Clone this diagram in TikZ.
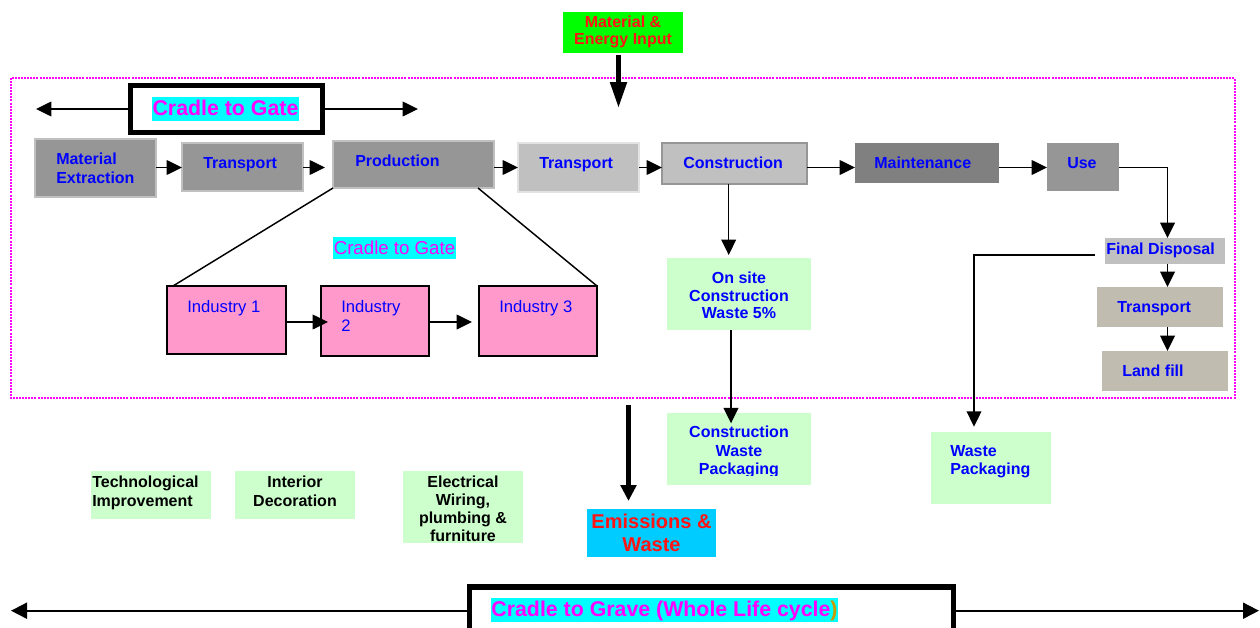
\documentclass[tikz,border=0pt]{standalone}
\usepackage{fontspec}
\setmainfont{Liberation Sans}
\usetikzlibrary{arrows.meta,calc}
\definecolor{gA}{RGB}{150,150,150}
\definecolor{gB}{RGB}{192,192,192}
\definecolor{gC}{RGB}{128,128,128}
\definecolor{beig}{RGB}{192,189,176}
\definecolor{pinkf}{RGB}{255,153,204}
\definecolor{lgreen}{RGB}{204,255,204}
\definecolor{emcyan}{RGB}{0,204,255}
\definecolor{hcyan}{RGB}{0,255,255}
\definecolor{mag}{RGB}{255,0,255}
\definecolor{ngreen}{RGB}{0,255,0}
\definecolor{tblue}{RGB}{0,0,255}
\definecolor{tred}{RGB}{255,20,20}
\definecolor{paren}{RGB}{204,153,0}
\begin{document}
\begin{tikzpicture}[x=0.75pt,y=-0.75pt,
  bx/.style 2 args={rectangle, inner sep=0pt, outer sep=0pt, minimum width=#1*0.75pt, minimum height=#2*0.75pt},
  grayA/.style={fill=gA, draw=gB, line width=1.1pt},
  grayB/.style={fill=gB, draw=gB!45!white, line width=1.1pt},
  grayC/.style={fill=gB, draw=gA, line width=1.1pt},
  grayD/.style={fill=gC},
  grayE/.style={fill=gA},
  grayF/.style={fill=gB},
  beigebox/.style={fill=beig},
  indbox/.style={fill=pinkf, draw=black, line width=1.9pt},
  greenbox/.style={fill=lgreen},
  tb/.style={inner sep=0pt, font=\bfseries\fontsize{12}{14}\selectfont, text=tblue},
  tk/.style={inner sep=0pt, font=\bfseries\fontsize{12}{14}\selectfont, text=black},
  tind/.style={inner sep=0pt, font=\fontsize{12.5}{15}\selectfont, text=tblue},
  tredt/.style={inner sep=0pt, font=\bfseries\fontsize{12}{14}\selectfont, text=tred},
  arr/.style={line width=1.1pt, -{Triangle[length=11.5pt,width=11pt]}},
  plain/.style={line width=1.1pt},
  hilite/.style={fill=hcyan, text=mag, inner xsep=0.6pt, inner ysep=0pt},
]
\useasboundingbox (0,0) rectangle (1260,628);

% dotted frame
\draw[mag, line width=1.3pt, dash pattern=on 1.5pt off 0.8pt] (11,78) rectangle (1235,398);

% main row boxes
\node[bx={121}{58}, grayA] (me) at (95.5,168) {};
\node[bx={121}{48}, grayA] (tr1) at (242.5,167) {};
\node[bx={161}{47}, grayA] (prod) at (413.5,164.5) {};
\node[bx={121}{49}, grayB] (tr2) at (578.5,167.5) {};
\node[bx={145}{41}, grayC] (con) at (734.5,163.5) {};
\node[bx={144}{40}, grayD] (mai) at (927,163) {};
\node[bx={72}{48}, grayE] (use) at (1083,167) {};
\node[bx={120}{26}, grayF] (fd) at (1165,251) {};
\node[bx={126}{40}, beigebox] (tr3) at (1160,307) {};
\node[bx={126}{40}, beigebox] (lf) at (1165,371) {};

% industries
\node[bx={119}{68}, indbox] (i1) at (226.5,320) {};
\node[bx={108}{70}, indbox] (i2) at (375,321) {};
\node[bx={118}{70}, indbox] (i3) at (538,321) {};

% green boxes
\node[bx={144}{72}, greenbox] (osw) at (739,294) {};
\node[bx={144}{72}, greenbox] (cwp) at (739,449) {};
\node[bx={120}{72}, greenbox] (wp) at (991,468) {};
\node[bx={120}{48}, greenbox] (tech) at (151,495) {};
\node[bx={120}{48}, greenbox] (int) at (295,495) {};
\node[bx={120}{72}, greenbox] (ele) at (463,507) {};

% input / output boxes
\node[bx={120}{41}, fill=ngreen] (mei) at (623,32.5) {};
\node[bx={129}{48}, fill=emcyan] (emi) at (651.5,533) {};

% cradle boxes
\node[bx={192}{47}, draw=black, line width=3.75pt] (ctg) at (226.5,109) {};
\node[bx={484}{63}, draw=black, line width=4pt] (cgr) at (711.75,618.5) {};

% texts
\node[tb, anchor=base west] at (56,164) {Material};
\node[tb, anchor=base west] at (56,183) {Extraction};
\node[tb, anchor=base west] at (203,168) {Transport};
\node[tb, anchor=base west] at (355,166) {Production};
\node[tb, anchor=base west] at (539,168) {Transport};
\node[tb, anchor=base west] at (683,168) {Construction};
\node[tb, anchor=base west] at (874,168) {Maintenance};
\node[tb, anchor=base west] at (1067,168) {Use};
\node[tb, anchor=base west] at (1106,254.5) {Final Disposal};
\node[tb, anchor=base west] at (1117,312) {Transport};
\node[tb, anchor=base west] at (1122,376) {Land fill};

\node[tind, anchor=base west] at (187,312) {Industry 1};
\node[tind, anchor=base west] at (341,312) {Industry};
\node[tind, anchor=base west] at (341,331.5) {2};
\node[tind, anchor=base west] at (499,312) {Industry 3};

\node[tb, anchor=base] at (739,283) {On site};
\node[tb, anchor=base] at (739,301) {Construction};
\node[tb, anchor=base] at (739,318.5) {Waste 5\%};

\node[tb, anchor=base] at (739,437.3) {Construction};
\node[tb, anchor=base] at (739,456) {Waste};
\begin{scope}
\clip (660,460) rectangle (820,475);
\node[tb, anchor=base] at (739,474.3) {Packaging};
\end{scope}

\node[tb, anchor=base west] at (950,456) {Waste};
\node[tb, anchor=base west] at (950,474.3) {Packaging};

\node[tredt, anchor=base] at (623,27) {Material \&};
\node[tredt, anchor=base] at (623,44) {Energy Input};

\node[tredt, font=\bfseries\fontsize{15}{18}\selectfont, anchor=base] at (651.5,528.3) {Emissions \&};
\node[tredt, font=\bfseries\fontsize{15}{18}\selectfont, anchor=base] at (651.5,551.7) {Waste};

\node[tk, anchor=base west] at (92,487) {Technological};
\node[tk, anchor=base west] at (92,506) {Improvement};
\node[tk, anchor=base] at (295,487) {Interior};
\node[tk, anchor=base] at (295,506) {Decoration};
\node[tk, anchor=base] at (463,487) {Electrical};
\node[tk, anchor=base] at (463,505.5) {Wiring,};
\node[tk, anchor=base] at (463,523.3) {plumbing \&};
\node[tk, anchor=base] at (463,541) {furniture};

\node[hilite, font=\bfseries\fontsize{16}{19}\selectfont, text height=13.5pt, text depth=4.5pt] (ctgl) at (225.5,109) {Cradle to Gate};
\node[hilite, font=\fontsize{14}{17}\selectfont, text height=12.6pt, text depth=3.4pt] (midl) at (394.5,248) {Cradle to Gate};
\node[hilite, font=\bfseries\fontsize{16}{19}\selectfont, text height=13.5pt, text depth=4.5pt] (cgrl) at (664.5,610.2) {Cradle to Grave (Whole Life cycle\textcolor{paren}{)}};

% coordinates
\coordinate (row) at (0,167.5);
\coordinate (irow) at (0,322);
\coordinate (lowrow) at (0,610.7);
\coordinate (ctgL) at (36,109);
\coordinate (ctgR) at (418,109);
\coordinate (cgrL) at (11,610.7);
\coordinate (cgrR) at (1259,610.7);
\coordinate (meiTip) at (618.5,108);
\coordinate (emTop) at (628.5,405);
\coordinate (rx) at (1167.5,0);
\coordinate (cx) at (728.7,0);
\coordinate (cx2) at (731,0);

% main row connectors
\draw[arr] (me.east|-row) -- (tr1.west|-row);
\draw[arr] (tr1.east|-row) -- ($(prod.west|-row)+(-8,0)$);
\draw[arr] (prod.east|-row) -- (tr2.west|-row);
\draw[arr] (tr2.east|-row) -- (con.west|-row);
\draw[arr] (con.east|-row) -- (mai.west|-row);
\draw[arr] (mai.east|-row) -- (use.west|-row);
\draw[arr] (use.east|-row) -| (fd.north-|rx);
\draw[arr] (fd.south-|rx) -- (tr3.north-|rx);
\draw[arr] (tr3.south-|rx) -- (lf.north-|rx);
\draw[arr] ($(fd.west)+(-10,4)$) -| ($(wp.north)+(-17,-5.3)$);
\draw[arr] (con.south-|cx) -- ($(osw.north-|cx)+(0,-3)$);
\draw[arr] (osw.south-|cx2) -- ($(cwp.north-|cx2)+(0,10.3)$);

% industries
\draw[arr] (i1.east|-irow) -- ($(i2.west|-irow)+(7,0)$);
\draw[arr] (i2.east|-irow) -- ($(i3.west|-irow)+(-7,0)$);
\draw[plain] (prod.south west) -- ($(i1.north west)+(6,0)$);
\draw[plain] ($(prod.south east)+(-16,0)$) -- (i3.north east);

% cradle arrows
\draw[arr] (ctg.west) -- (ctgL);
\draw[arr] (ctg.east) -- (ctgR);
\draw[line width=1.4pt, -{Triangle[length=12pt,width=12pt]}] (cgr.west|-lowrow) -- (cgrL);
\draw[line width=1.4pt, -{Triangle[length=12pt,width=12pt]}] (cgr.east|-lowrow) -- (cgrR);

% thick arrows
\draw[line width=3.75pt, -{Triangle[length=19.5pt,width=12pt]}] ($(mei.south)+(-4.5,2)$) -- (meiTip);
\draw[line width=3.75pt, -{Triangle[length=12pt,width=11.6pt]}] (emTop) -- ($(emi.north)+(-23,-8)$);
\end{tikzpicture}
\end{document}
